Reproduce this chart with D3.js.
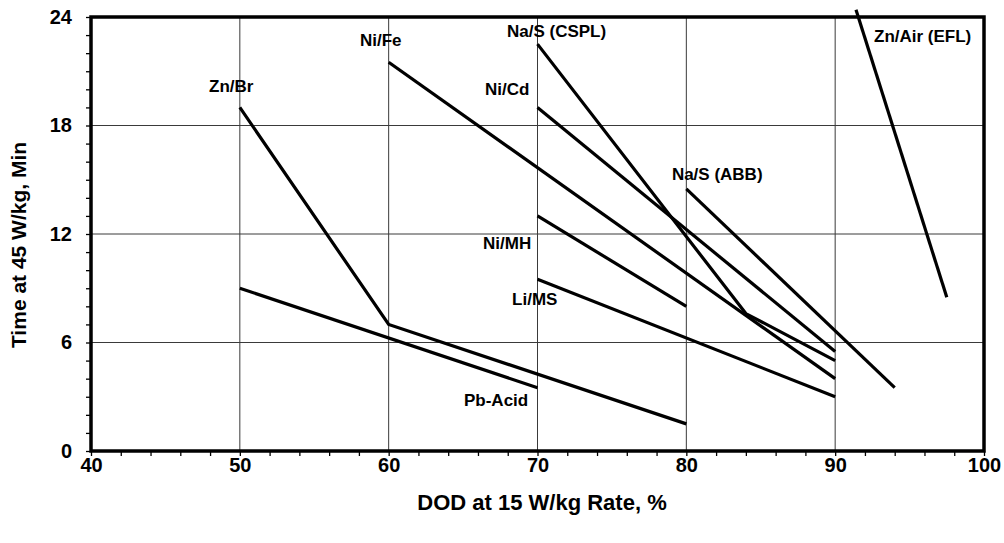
<!DOCTYPE html>
<html><head><meta charset="utf-8">
<script src="https://cdn.jsdelivr.net/npm/d3@7"></script>
<style>
body{margin:0;background:#fff}
svg text{font-family:"Liberation Sans",Arial,sans-serif;font-weight:bold;fill:#000}
</style>
</head><body>
<svg id="chart" width="1004" height="543"></svg>
<script>
// ---- data ----
const seriesNames = ["Zn/Br","Pb-Acid","Ni/Fe","Na/S (CSPL)","Ni/Cd","Ni/MH","Li/MS","Na/S (ABB)","Zn/Air (EFL)"];
const seriesDod = [
  [50,60,80],
  [50,70],
  [60,90],
  [70,84,90],
  [70,90],
  [70,80],
  [70,90],
  [80,94],
  [91.4,97.5]
];
const seriesTime = [
  [19,7,1.5],
  [9,3.5],
  [21.5,4.0],
  [22.5,7.6,5.0],
  [19,5.5],
  [13,8],
  [9.5,3.0],
  [14.5,3.5],
  [24.4,8.5]
];
// label anchors in data units (DOD, time)
const labelDod  = [47.93,65.06,58.07,67.95,66.47,66.34,68.29,79.03,92.61];
const labelTime = [19.85,2.49,22.40,22.89,19.69,11.17,8.07,14.99,22.62];
const xTicks = [40,50,60,70,80,90,100];
const yTicks = [0,6,12,18,24];
const xTitle = "DOD at 15 W/kg Rate, %";
const yTitle = "Time at 45 W/kg, Min";

// ---- layout ----
const svg = d3.select("#chart");
const L = 91, R = 984, T = 17, B = 451;
const x = d3.scaleLinear().domain([40,100]).range([L,R]);
const y = d3.scaleLinear().domain([0,24]).range([B,T]);

// gridlines
const grid = svg.append("g");
grid.selectAll("line.v").data(xTicks.slice(1,-1)).enter().append("line")
  .attr("x1",d=>x(d)).attr("x2",d=>x(d)).attr("y1",T).attr("y2",B)
  .attr("stroke","#3a3a3a").attr("stroke-width",1);
grid.selectAll("line.h").data(yTicks.slice(1,-1)).enter().append("line")
  .attr("x1",L).attr("x2",R).attr("y1",d=>y(d)).attr("y2",d=>y(d))
  .attr("stroke","#3a3a3a").attr("stroke-width",1);

// minor ticks
const yMinor = d3.axisLeft(y).tickValues(d3.range(0,25,1)).tickSize(5).tickFormat("");
svg.append("g").attr("transform",`translate(${L},0)`).call(yMinor)
  .call(g=>g.select(".domain").remove())
  .call(g=>g.selectAll("line").attr("stroke","#000").attr("stroke-width",1.3));
const xMinor = d3.axisBottom(x).tickValues(d3.range(40,101,2)).tickSize(5).tickFormat("");
svg.append("g").attr("transform",`translate(0,${B})`).call(xMinor)
  .call(g=>g.select(".domain").remove())
  .call(g=>g.selectAll("line").attr("stroke","#000").attr("stroke-width",1.3));

// tick labels
const yAx = d3.axisLeft(y).tickValues(yTicks).tickSize(0).tickPadding(19);
svg.append("g").attr("transform",`translate(${L},0)`).call(yAx)
  .call(g=>g.select(".domain").remove())
  .call(g=>g.selectAll("text").style("font-size","20px").attr("font-family",null));
const xAx = d3.axisBottom(x).tickValues(xTicks).tickSize(0).tickPadding(7);
svg.append("g").attr("transform",`translate(0,${B})`).call(xAx)
  .call(g=>g.select(".domain").remove())
  .call(g=>g.selectAll("text").style("font-size","20px").attr("font-family",null));

// frame
svg.append("rect").attr("x",L).attr("y",T).attr("width",R-L).attr("height",B-T)
  .attr("fill","none").attr("stroke","#000").attr("stroke-width",3.5);

// series lines
const line = d3.line().x(d=>x(d[0])).y(d=>y(d[1]));
seriesNames.forEach((n,i)=>{
  const pts = seriesDod[i].map((d,j)=>[d,seriesTime[i][j]]);
  svg.append("path").attr("d",line(pts)).attr("fill","none")
    .attr("stroke","#000").attr("stroke-width",3.2);
});

// labels
svg.selectAll("text.lab").data(seriesNames).enter().append("text")
  .attr("class","lab")
  .attr("x",(d,i)=>x(labelDod[i])).attr("y",(d,i)=>y(labelTime[i]))
  .style("font-size","17px").text(d=>d);

// axis titles
svg.append("text").attr("x",542).attr("y",510).attr("text-anchor","middle")
  .style("font-size","22px").text(xTitle);
svg.append("text").attr("transform",`translate(26,245) rotate(-90)`)
  .attr("text-anchor","middle").style("font-size","21px").text(yTitle);
</script>
</body></html>
